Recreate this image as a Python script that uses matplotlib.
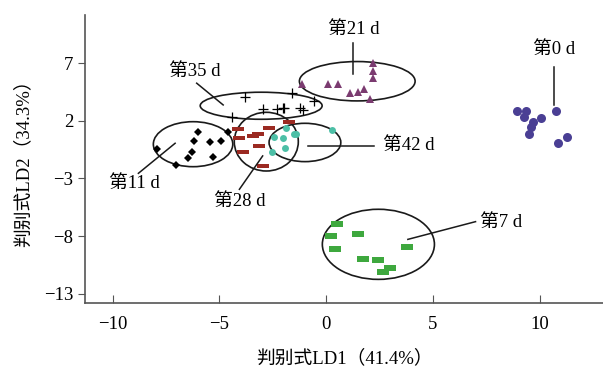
import matplotlib.pyplot as plt
from matplotlib.patches import Ellipse

plt.rcParams['font.family'] = ['Liberation Serif', 'Noto Sans CJK SC']

# group data (LD1, LD2)
d0_x = [8.96, 9.37, 9.29, 9.71, 10.07, 9.62, 9.51, 10.77, 11.30, 10.85]
d0_y = [2.87, 2.87, 2.32, 1.94, 2.23, 1.50, 0.87, 2.87, 0.58, 0.06]
d21_x = [-1.14, 0.11, 0.55, 1.12, 1.48, 1.79, 2.06, 2.22, 2.22, 2.19]
d21_y = [5.22, 5.19, 5.19, 4.41, 4.55, 4.78, 3.89, 7.07, 6.37, 5.71]
d35_x = [-4.42, -3.79, -2.96, -2.28, -2.03, -1.61, -1.22, -1.06, -0.55, -1.95]
d35_y = [2.32, 4.11, 3.02, 3.02, 3.16, 4.41, 3.16, 2.96, 3.77, 3.10]
d11_x = [-7.93, -7.03, -6.45, -6.29, -6.18, -6.01, -5.43, -4.92, -5.31, -4.60]
d11_y = [-0.46, -1.85, -1.24, -0.70, 0.29, 1.02, 0.15, 0.29, -1.10, 1.02]
d28_x = [-4.12, -2.66, -1.72, -4.07, -3.42, -3.21, -3.12, -3.87, -2.94]
d28_y = [1.29, 1.42, 1.87, 0.52, 0.71, 0.89, -0.20, -0.72, -1.91]
d42_x = [-1.87, -2.44, -2.03, -1.48, -1.41, -1.92, -2.54, 0.27]
d42_y = [1.37, 0.63, 0.50, 0.87, 0.84, -0.32, -0.67, 1.22]
d7_x = [0.50, 0.22, 1.50, 0.41, 1.75, 2.45, 3.78, 3.00, 2.66]
d7_y = [-6.96, -8.00, -7.85, -9.10, -9.97, -10.09, -8.96, -10.76, -11.13]

# ellipses: center x, center y, width, height
ell_21 = (1.46, 5.45, 5.42, 3.42)
ell_35 = (-3.04, 3.32, 5.71, 2.35)
ell_11 = (-6.23, -0.02, 3.72, 3.91)
ell_28 = (-2.80, 0.20, 3.00, 5.10)
ell_42 = (-0.99, 0.13, 3.36, 3.33)
ell_7 = (2.45, -8.72, 5.25, 6.09)

# labels: text, text pos, leader line (x0, y0, x1, y1)
labels = ['第0 d', '第21 d', '第35 d', '第11 d', '第28 d', '第42 d', '第7 d']
label_pos = [(10.66, 8.17), (1.28, 9.91), (-6.16, 6.29), (-9.0, -3.42),
             (-4.03, -5.02), (3.89, -0.17), (8.2, -6.78)]
leaders = [(10.66, 6.70, 10.66, 3.39), (1.28, 8.78, 1.28, 6.09),
           (-6.06, 5.28, -4.82, 3.39), (-8.79, -2.55, -7.07, 0.06),
           (-4.06, -3.94, -2.97, -1.04), (-0.83, -0.17, 2.25, -0.17),
           (7.0, -6.75, 3.83, -8.29)]

xticks = [-10, -5, 0, 5, 10]
yticks = [-13, -8, -3, 2, 7]

fig = plt.figure(figsize=(6.03, 3.67), dpi=100)
ax = fig.add_axes([0.141, 0.174, 0.859, 0.785])

dash = [(-4, -1.4), (4, -1.4), (4, 1.4), (-4, 1.4), (-4, -1.4)]
rect = [(-2, -1.05), (2, -1.05), (2, 1.05), (-2, 1.05), (-2, -1.05)]

ax.plot(d0_x, d0_y, 'o', color='#4a3f94', ms=6.5, mew=0)
ax.plot(d21_x, d21_y, '^', color='#7b3b70', ms=5.5, mew=0)
ax.plot(d35_x, d35_y, '+', color='black', ms=7, mew=0.9)
ax.plot(d11_x, d11_y, 'D', color='black', ms=4, mew=0)
ax.plot(d28_x, d28_y, marker=dash, ls='none', color='#9b2a22', ms=8, mew=0)
ax.plot(d42_x, d42_y, 'o', color='#4cbfa6', ms=5, mew=0)
ax.plot(d7_x, d7_y, marker=rect, ls='none', color='#3ea83e', ms=8, mew=0)

for cx, cy, w, h in [ell_21, ell_35, ell_11, ell_28, ell_42, ell_7]:
    ax.add_patch(Ellipse((cx, cy), w, h, fill=False, ec='#1a1a1a', lw=1.2))

for (x0, y0, x1, y1) in leaders:
    ax.plot([x0, x1], [y0, y1], color='#1a1a1a', lw=1.1)
for t, (tx, ty) in zip(labels, label_pos):
    ax.text(tx, ty, t, fontsize=13.5, ha='center', va='center')

ax.set_xlim(-11.29, 12.97)
ax.set_ylim(-13.83, 11.2)
ax.set_xticks(xticks)
ax.set_yticks(yticks)
ax.tick_params(axis='x', direction='in', length=6, labelsize=13.5, color='#555555', pad=9)
ax.tick_params(axis='y', direction='out', length=5, labelsize=13.5, color='#555555')
for s in ['top', 'right']:
    ax.spines[s].set_visible(False)
for s in ['left', 'bottom']:
    ax.spines[s].set_color('#555555')
    ax.spines[s].set_linewidth(1.2)

ax.set_xlabel('判别式LD1（41.4%）', fontsize=13.5, labelpad=12)
ax.set_ylabel('判别式LD2（34.3%）', fontsize=13.5, labelpad=8)

fig.savefig('out.png', dpi=100)
